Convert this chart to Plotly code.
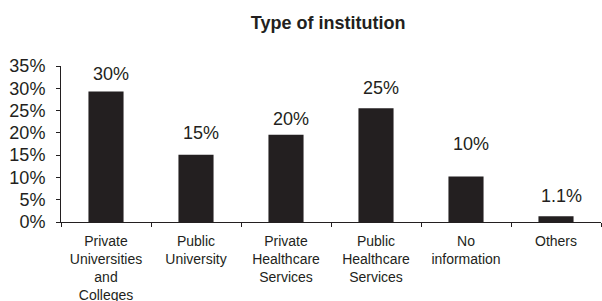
import plotly.graph_objects as go

categories = ["Private<br>Universities<br>and<br>Colleges", "Public<br>University",
              "Private<br>Healthcare<br>Services", "Public<br>Healthcare<br>Services",
              "No<br>information", "Others"]
values = [29.3, 15.1, 19.6, 25.5, 10.2, 1.3]
value_labels = ["30%", "15%", "20%", "25%", "10%", "1.1%"]
y_tick_vals = [0, 5, 10, 15, 20, 25, 30, 35]
y_tick_text = ["0%", "5%", "10%", "15%", "20%", "25%", "30%", "35%"]
title_text = "Type of institution"

# styling
label_yshift = [5, 10, 4, 8, 21, 8]
ink = "#231f20"
font_family = "Liberation Sans, Arial, sans-serif"

fig = go.Figure()
fig.add_trace(go.Bar(x=categories, y=values, marker=dict(color=ink, line=dict(width=0)),
                     hoverinfo="skip"))

for c, v, t, s in zip(categories, values, value_labels, label_yshift):
    fig.add_annotation(x=c, y=v, text=t, showarrow=False, yanchor="bottom",
                       xanchor="center", xshift=5, yshift=s,
                       font=dict(family=font_family, size=18, color=ink))

fig.update_layout(
    width=602, height=301,
    margin=dict(l=61, r=1, t=66, b=79, autoexpand=False),
    paper_bgcolor="white", plot_bgcolor="white",
    bargap=0.61,
    showlegend=False,
    title=dict(text="<b>" + title_text + "</b>", x=0.545, xref="container",
               xanchor="center", y=0.925, yanchor="middle",
               font=dict(family=font_family, size=18, color=ink)),
    font=dict(family=font_family, color=ink),
)
fig.update_xaxes(showline=True, linecolor=ink, linewidth=1, ticks="outside",
                 tickson="boundaries", ticklen=4, tickcolor=ink, tickwidth=1,
                 ticklabelstandoff=6,
                 tickfont=dict(size=14, color=ink, family=font_family),
                 showgrid=False, zeroline=False, tickangle=0, automargin=False)
fig.update_yaxes(range=[0, 35], tickvals=y_tick_vals, ticktext=y_tick_text,
                 showline=True, linecolor=ink, linewidth=1, ticks="outside",
                 ticklen=4, tickcolor=ink, tickwidth=1, ticklabelstandoff=7,
                 tickfont=dict(size=18, color=ink, family=font_family),
                 showgrid=False, zeroline=False, automargin=False)

fig.write_html("out.html", config={"displayModeBar": False},
               post_script="document.body.style.margin='0';document.body.style.overflow='hidden';")
